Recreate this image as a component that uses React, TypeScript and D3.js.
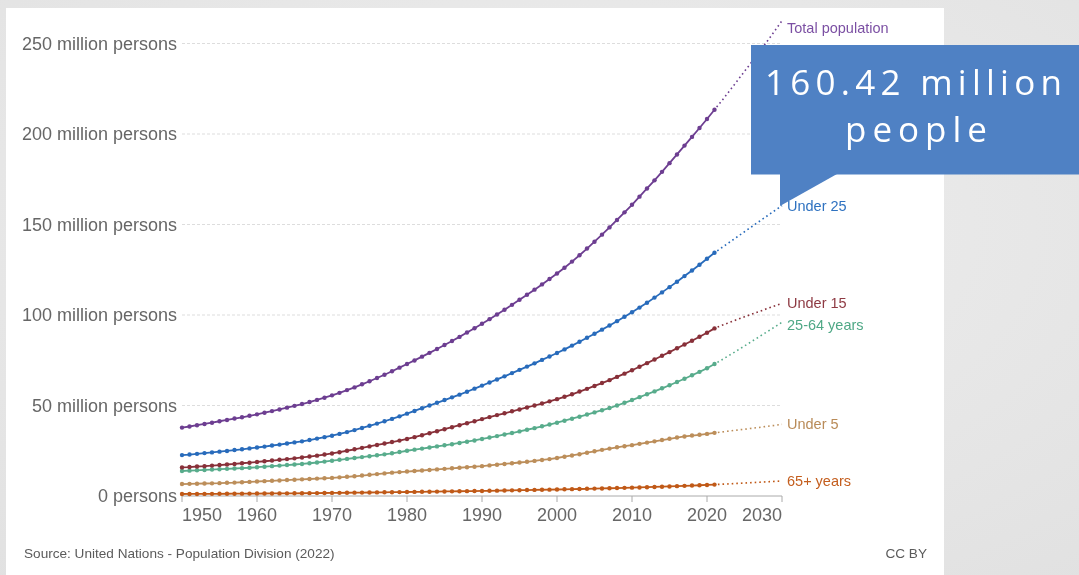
import React from "react";
import * as d3 from "d3";

const W = 1079;
const H = 575;

// Observed years (solid line with dots)
const years = [
  1950, 1951, 1952, 1953, 1954, 1955, 1956, 1957, 1958, 1959,
  1960, 1961, 1962, 1963, 1964, 1965, 1966, 1967, 1968, 1969,
  1970, 1971, 1972, 1973, 1974, 1975, 1976, 1977, 1978, 1979,
  1980, 1981, 1982, 1983, 1984, 1985, 1986, 1987, 1988, 1989,
  1990, 1991, 1992, 1993, 1994, 1995, 1996, 1997, 1998, 1999,
  2000, 2001, 2002, 2003, 2004, 2005, 2006, 2007, 2008, 2009,
  2010, 2011, 2012, 2013, 2014, 2015, 2016, 2017, 2018, 2019,
  2020, 2021,
];
// Projection years (dotted line)
const projYears = [2021, 2022, 2023, 2024, 2025, 2026, 2027, 2028, 2029, 2030];

// Values in million persons
const totalPopulation = [
  37.8, 38.4, 39.1, 39.8, 40.5, 41.3, 42.0, 42.8, 43.5, 44.3,
  45.1, 46.0, 46.9, 47.8, 48.8, 49.8, 50.8, 51.9, 53.1, 54.3,
  55.6, 57.0, 58.5, 60.0, 61.7, 63.4, 65.2, 67.0, 68.9, 70.9,
  72.9, 74.9, 77.0, 79.1, 81.2, 83.4, 85.6, 87.9, 90.3, 92.7,
  95.2, 97.7, 100.3, 102.9, 105.6, 108.4, 111.2, 114.0, 116.9, 119.9,
  122.9, 126.1, 129.5, 133.0, 136.7, 140.5, 144.4, 148.4, 152.5, 156.7,
  160.9, 165.4, 169.9, 174.4, 179.1, 183.9, 188.7, 193.6, 198.4, 203.3,
  208.3, 213.4,
];
const totalPopulationProj = [213.4, 218.5, 223.8, 229.2, 234.6, 240.0, 245.5, 251.1, 256.8, 262.6];

const under25 = [
  22.6, 22.9, 23.3, 23.7, 24.1, 24.5, 24.9, 25.4, 25.8, 26.3,
  26.8, 27.3, 27.9, 28.4, 29.0, 29.6, 30.2, 30.9, 31.7, 32.5,
  33.3, 34.3, 35.3, 36.4, 37.6, 38.8, 40.0, 41.3, 42.6, 44.0,
  45.5, 47.0, 48.5, 50.0, 51.5, 53.0, 54.5, 56.0, 57.6, 59.3,
  61.0, 62.7, 64.4, 66.1, 67.9, 69.7, 71.5, 73.3, 75.2, 77.1,
  79.0, 81.0, 83.1, 85.2, 87.4, 89.6, 91.9, 94.2, 96.6, 99.0,
  101.5, 104.1, 106.8, 109.6, 112.5, 115.4, 118.4, 121.5, 124.6, 127.8,
  131.1, 134.4,
];
const under25Proj = [134.4, 137.3, 140.2, 143.1, 146.0, 148.9, 151.8, 154.7, 157.6, 160.42];

const under15 = [
  15.8, 16.0, 16.3, 16.5, 16.8, 17.1, 17.4, 17.7, 18.1, 18.4,
  18.8, 19.2, 19.6, 20.0, 20.4, 20.8, 21.3, 21.8, 22.3, 22.9,
  23.5, 24.2, 25.0, 25.8, 26.6, 27.4, 28.2, 29.0, 29.8, 30.6,
  31.5, 32.5, 33.6, 34.7, 35.8, 36.9, 38.0, 39.1, 40.2, 41.3,
  42.5, 43.6, 44.7, 45.7, 46.8, 47.8, 48.9, 50.0, 51.1, 52.3,
  53.5, 54.8, 56.2, 57.7, 59.2, 60.8, 62.4, 64.0, 65.8, 67.6,
  69.5, 71.4, 73.4, 75.4, 77.5, 79.5, 81.6, 83.7, 85.8, 88.0,
  90.2, 92.6,
];
const under15Proj = [92.6, 94.3, 95.9, 97.5, 99.0, 100.5, 102.0, 103.5, 105.0, 106.5];

const age25to64 = [
  13.8, 14.0, 14.2, 14.4, 14.6, 14.8, 15.0, 15.2, 15.4, 15.6,
  15.9, 16.2, 16.5, 16.8, 17.1, 17.4, 17.7, 18.1, 18.5, 19.0,
  19.5, 20.0, 20.5, 21.0, 21.5, 22.0, 22.5, 23.0, 23.6, 24.3,
  25.0, 25.6, 26.2, 26.8, 27.4, 28.0, 28.6, 29.3, 30.0, 30.7,
  31.5, 32.3, 33.1, 34.0, 34.8, 35.7, 36.6, 37.5, 38.5, 39.5,
  40.5, 41.6, 42.7, 43.8, 45.0, 46.2, 47.4, 48.6, 50.0, 51.5,
  53.0, 54.6, 56.2, 57.8, 59.5, 61.2, 63.0, 64.8, 66.7, 68.6,
  70.6, 72.9,
];
const age25to64Proj = [72.9, 75.3, 77.8, 80.3, 82.9, 85.5, 88.1, 90.7, 93.3, 96.0];

const under5 = [
  6.6, 6.7, 6.8, 6.9, 7.0, 7.1, 7.3, 7.4, 7.6, 7.8,
  8.0, 8.2, 8.4, 8.6, 8.8, 9.0, 9.2, 9.4, 9.6, 9.8,
  10.0, 10.3, 10.6, 10.9, 11.3, 11.7, 12.1, 12.5, 12.9, 13.2,
  13.5, 13.8, 14.1, 14.4, 14.7, 15.0, 15.3, 15.6, 15.9, 16.2,
  16.5, 16.9, 17.3, 17.7, 18.1, 18.5, 18.9, 19.4, 19.9, 20.4,
  21.0, 21.7, 22.4, 23.1, 23.9, 24.7, 25.5, 26.2, 26.9, 27.5,
  28.1, 28.8, 29.5, 30.2, 30.9, 31.6, 32.3, 32.9, 33.4, 33.8,
  34.3, 34.9,
];
const under5Proj = [34.9, 35.4, 35.9, 36.4, 36.9, 37.4, 37.9, 38.5, 39.0, 39.6];

const age65plus = [
  1.10, 1.12, 1.14, 1.17, 1.19, 1.22, 1.24, 1.27, 1.29, 1.32,
  1.35, 1.38, 1.41, 1.44, 1.47, 1.50, 1.53, 1.57, 1.61, 1.65,
  1.70, 1.74, 1.79, 1.84, 1.89, 1.94, 1.99, 2.04, 2.09, 2.15,
  2.20, 2.26, 2.32, 2.38, 2.44, 2.50, 2.56, 2.62, 2.68, 2.74,
  2.80, 2.88, 2.96, 3.04, 3.12, 3.20, 3.28, 3.36, 3.44, 3.52,
  3.60, 3.69, 3.78, 3.88, 3.98, 4.08, 4.18, 4.28, 4.38, 4.49,
  4.60, 4.73, 4.86, 5.00, 5.14, 5.29, 5.44, 5.60, 5.76, 5.93,
  6.10, 6.30,
];
const age65plusProj = [6.30, 6.52, 6.74, 6.96, 7.18, 7.40, 7.62, 7.84, 8.06, 8.30];

const seriesNames = ["Total population", "Under 25", "Under 15", "25-64 years", "Under 5", "65+ years"];
const seriesColors = ["#6D3E91", "#286BBB", "#883039", "#58AC8C", "#BC8E5A", "#C05917"];
const labelColors = ["#7B4FA3", "#2F72C0", "#8E3A43", "#4FA886", "#B98B58", "#C45E1E"];
const seriesHist = [totalPopulation, under25, under15, age25to64, under5, age65plus];
const seriesProj = [totalPopulationProj, under25Proj, under15Proj, age25to64Proj, under5Proj, age65plusProj];

const yTicks = [0, 50, 100, 150, 200, 250];
const yTickLabels = ["0 persons", "50 million persons", "100 million persons", "150 million persons", "200 million persons", "250 million persons"];
const xTicks = [1950, 1960, 1970, 1980, 1990, 2000, 2010, 2020, 2030];

const sourceText = "Source: United Nations - Population Division (2022)";
const licenseText = "CC BY";
const calloutLines = ["160.42 million", "people"];

const FONT = "'Liberation Sans', Arial, Helvetica, sans-serif";

export default function App() {
  const x = d3.scaleLinear().domain([1950, 2030]).range([182, 782]);
  const y = d3.scaleLinear().domain([0, 250]).range([496, 43.5]);

  const series = seriesNames.map((name, i) => ({
    name,
    color: seriesColors[i],
    labelColor: labelColors[i],
    hist: seriesHist[i],
    proj: seriesProj[i],
  }));

  const histLine = d3
    .line<number>()
    .x((_, i) => x(years[i]))
    .y((d) => y(d));
  const projLine = d3
    .line<number>()
    .x((_, i) => x(projYears[i]))
    .y((d) => y(d));

  // label placement with simple collision avoidance
  const labelInfo = series
    .map((s) => ({ name: s.name, color: s.labelColor, y: y(s.proj[s.proj.length - 1]) }))
    .sort((a, b) => a.y - b.y);
  let prev = -Infinity;
  labelInfo.forEach((l, i) => {
    let ly = Math.max(l.y, 28);
    if (i > 0 && ly < prev + 22) ly = prev + 22;
    l.y = ly;
    prev = ly;
  });

  return (
    <div style={{ position: "fixed", left: 0, top: 0, width: W, height: H }}>
      <svg width={W} height={H} viewBox={`0 0 ${W} ${H}`} style={{ display: "block" }}>
        <defs>
          <radialGradient id="bg" cx="50%" cy="40%" r="80%">
            <stop offset="0%" stopColor="#efefef" />
            <stop offset="100%" stopColor="#e1e1e1" />
          </radialGradient>
        </defs>
        <rect x={0} y={0} width={W} height={H} fill="url(#bg)" />
        <rect x={6} y={8} width={938} height={H - 8} fill="#ffffff" />

        {/* grid + y labels */}
        {yTicks.map((t, i) => (
          <g key={t}>
            {t > 0 && (
              <line
                x1={x(1950)}
                x2={x(2030)}
                y1={y(t)}
                y2={y(t)}
                stroke="#dddddd"
                strokeWidth={1}
                strokeDasharray="3,2"
              />
            )}
            <text
              x={177}
              y={y(t)}
              dy="0.35em"
              textAnchor="end"
              fontFamily={FONT}
              fontSize={18}
              fill="#666666"
            >
              {yTickLabels[i]}
            </text>
          </g>
        ))}

        {/* x axis */}
        <line x1={x(1950)} x2={x(2030)} y1={y(0)} y2={y(0)} stroke="#aaaaaa" strokeWidth={1} />
        {xTicks.map((t, i) => (
          <g key={t}>
            <line x1={x(t)} x2={x(t)} y1={y(0)} y2={y(0) + 6} stroke="#aaaaaa" strokeWidth={1} />
            <text
              x={x(t)}
              y={521}
              textAnchor={i === 0 ? "start" : i === xTicks.length - 1 ? "end" : "middle"}
              fontFamily={FONT}
              fontSize={18}
              fill="#666666"
            >
              {t}
            </text>
          </g>
        ))}

        {/* series */}
        {series
          .slice()
          .reverse()
          .map((s) => (
            <g key={s.name}>
              <path
                d={projLine(s.proj) || ""}
                fill="none"
                stroke={s.color}
                strokeWidth={1.6}
                strokeDasharray="1.6,3"
                strokeDashoffset={-8}
              />
              <path d={histLine(s.hist) || ""} fill="none" stroke={s.color} strokeWidth={1.8} />
              {s.hist.map((v, i) => (
                <circle key={i} cx={x(years[i])} cy={y(v)} r={2.2} fill={s.color} />
              ))}
            </g>
          ))}

        {/* series labels */}
        {labelInfo.map((l) => (
          <text
            key={l.name}
            x={787}
            y={l.y}
            dy="0.35em"
            fontFamily={FONT}
            fontSize={14.5}
            fill={l.color}
          >
            {l.name}
          </text>
        ))}

        {/* footer */}
        <text x={24} y={558} fontFamily={FONT} fontSize={13.6} fill="#5b5b5b">
          {sourceText}
        </text>
        <text x={927} y={558} textAnchor="end" fontFamily={FONT} fontSize={13.6} fill="#5b5b5b">
          {licenseText}
        </text>

        {/* callout */}
        <rect x={751} y={45} width={W - 751} height={129.5} fill="#4F81C4" />
        <polygon points="780,174 837,174 780,206" fill="#4F81C4" />
        <text
          x={765}
          y={95}
          textLength={297}
          lengthAdjust="spacing"
          fontFamily="'Open Sans', Lato, sans-serif"
          fontSize={35}
          fill="#ffffff"
        >
          {calloutLines[0]}
        </text>
        <text
          x={845}
          y={142}
          textLength={142}
          lengthAdjust="spacing"
          fontFamily="'Open Sans', Lato, sans-serif"
          fontSize={35}
          fill="#ffffff"
        >
          {calloutLines[1]}
        </text>
      </svg>
    </div>
  );
}
